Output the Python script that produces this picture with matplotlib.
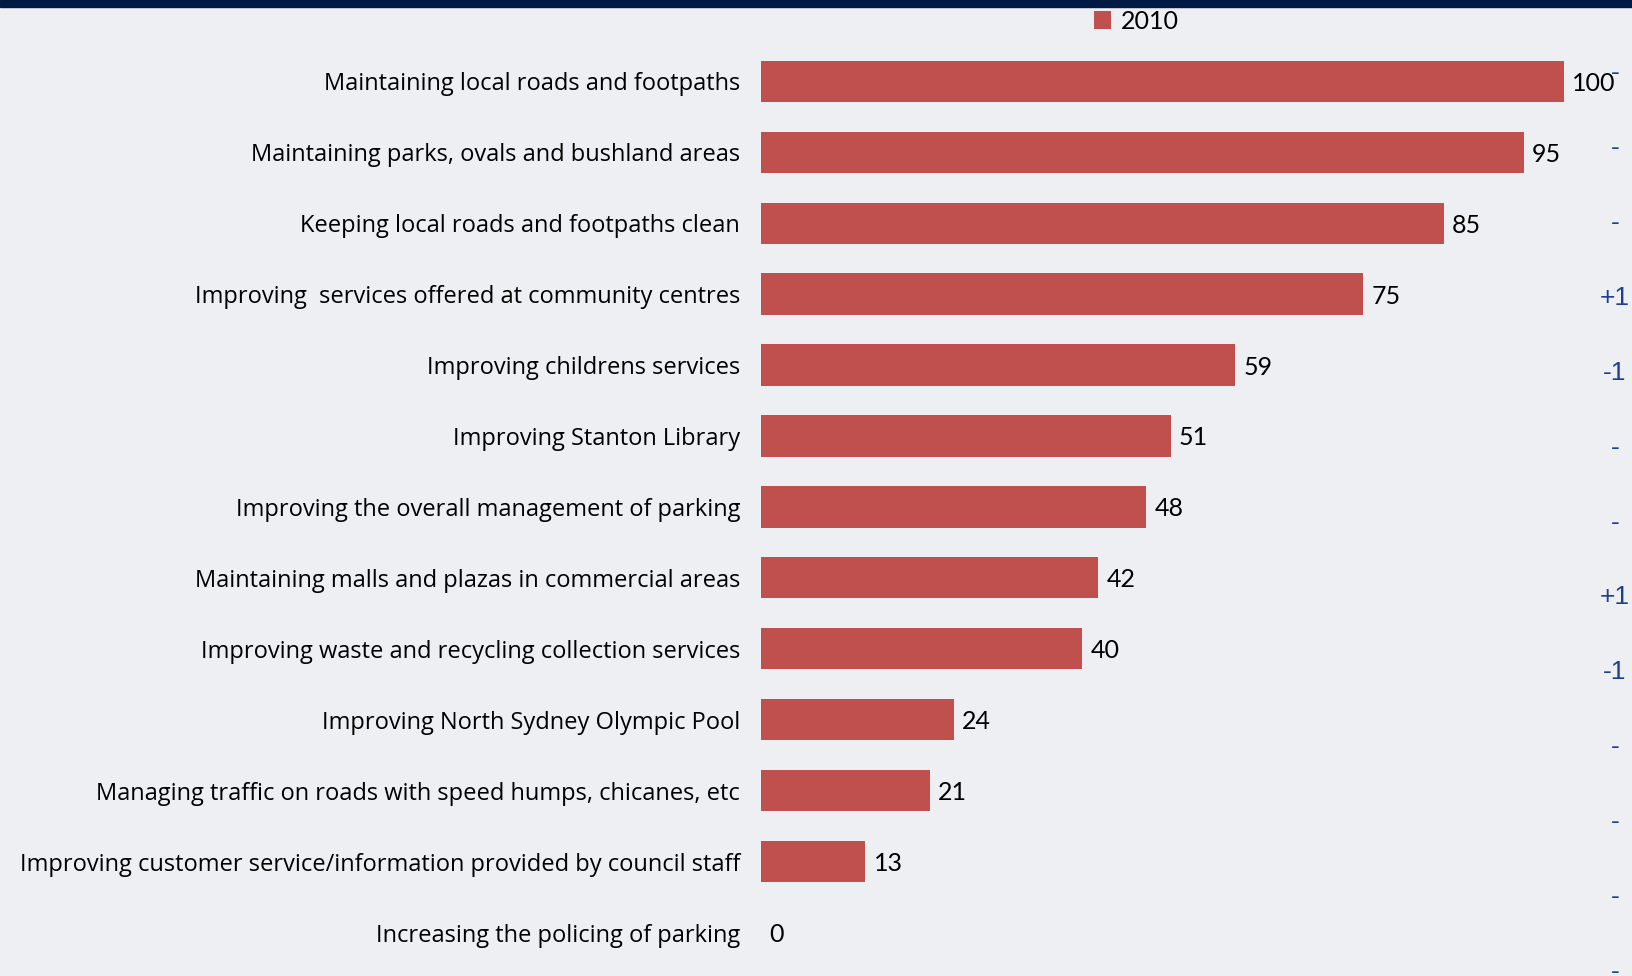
import matplotlib.pyplot as plt
from matplotlib.patches import Rectangle

categories = [
    'Maintaining local roads and footpaths',
    'Maintaining parks, ovals and bushland areas',
    'Keeping local roads and footpaths clean',
    'Improving  services offered at community centres',
    'Improving childrens services',
    'Improving Stanton Library',
    'Improving the overall management of parking',
    'Maintaining malls and plazas in commercial areas',
    'Improving waste and recycling collection services',
    'Improving North Sydney Olympic Pool',
    'Managing traffic on roads with speed humps, chicanes, etc',
    'Improving customer service/information provided by council staff',
    'Increasing the policing of parking',
]
values_2010 = [100, 95, 85, 75, 59, 51, 48, 42, 40, 24, 21, 13, 0]
rank_change = ['-', '-', '-', '+1', '-1', '-', '-', '+1', '-1', '-', '-', '-', '-']

bg = '#eeeff3'
bar_color = '#c0504d'

plt.rcParams['font.family'] = ['Lato', 'DejaVu Sans']

fig = plt.figure(figsize=(16.32, 9.76), dpi=100, facecolor=bg)
ax = fig.add_axes([761 / 1632, 0, (1632 - 761) / 1632, 1])
ax.set_facecolor(bg)

ypos = list(range(len(categories)))
bars = ax.barh(ypos, values_2010, height=0.58, color=bar_color, label='2010')

ax.set_xlim(0, 100 * (1632 - 761) / 803)
ax.set_ylim(12.61, -1.144)

ax.set_yticks(ypos)
ax.set_yticklabels(categories, fontsize=17, family=['Open Sans'],
                   va='center_baseline')
ax.tick_params(axis='y', length=0, pad=15)
ax.set_xticks([])
for s in ax.spines.values():
    s.set_visible(False)

for b, v in zip(bars, values_2010):
    ax.annotate(str(v), (v, b.get_y() + b.get_height() / 2),
                xytext=(6, 0), textcoords='offset points',
                va='center_baseline', ha='left', fontsize=18, color='black')

# change in ranking, right-hand column
for i, c in enumerate(rank_change):
    ax.text(106.35, -0.116 + i * 1.056, c, ha='center', va='center',
            fontsize=19, color='#1f3f8f', family=['Liberation Sans'])

leg = ax.legend(loc='upper left', bbox_to_anchor=(1071 / 1632, 1.013),
                bbox_transform=fig.transFigure, frameon=False, fontsize=18,
                handlelength=0.7, handleheight=0.7, handletextpad=0.4)

# dark band along the top edge
fig.patches.append(Rectangle((0, 1 - 7 / 976), 1, 7 / 976,
                             transform=fig.transFigure, color='#001a45'))

fig.savefig('out.png', dpi=100, facecolor=bg)
